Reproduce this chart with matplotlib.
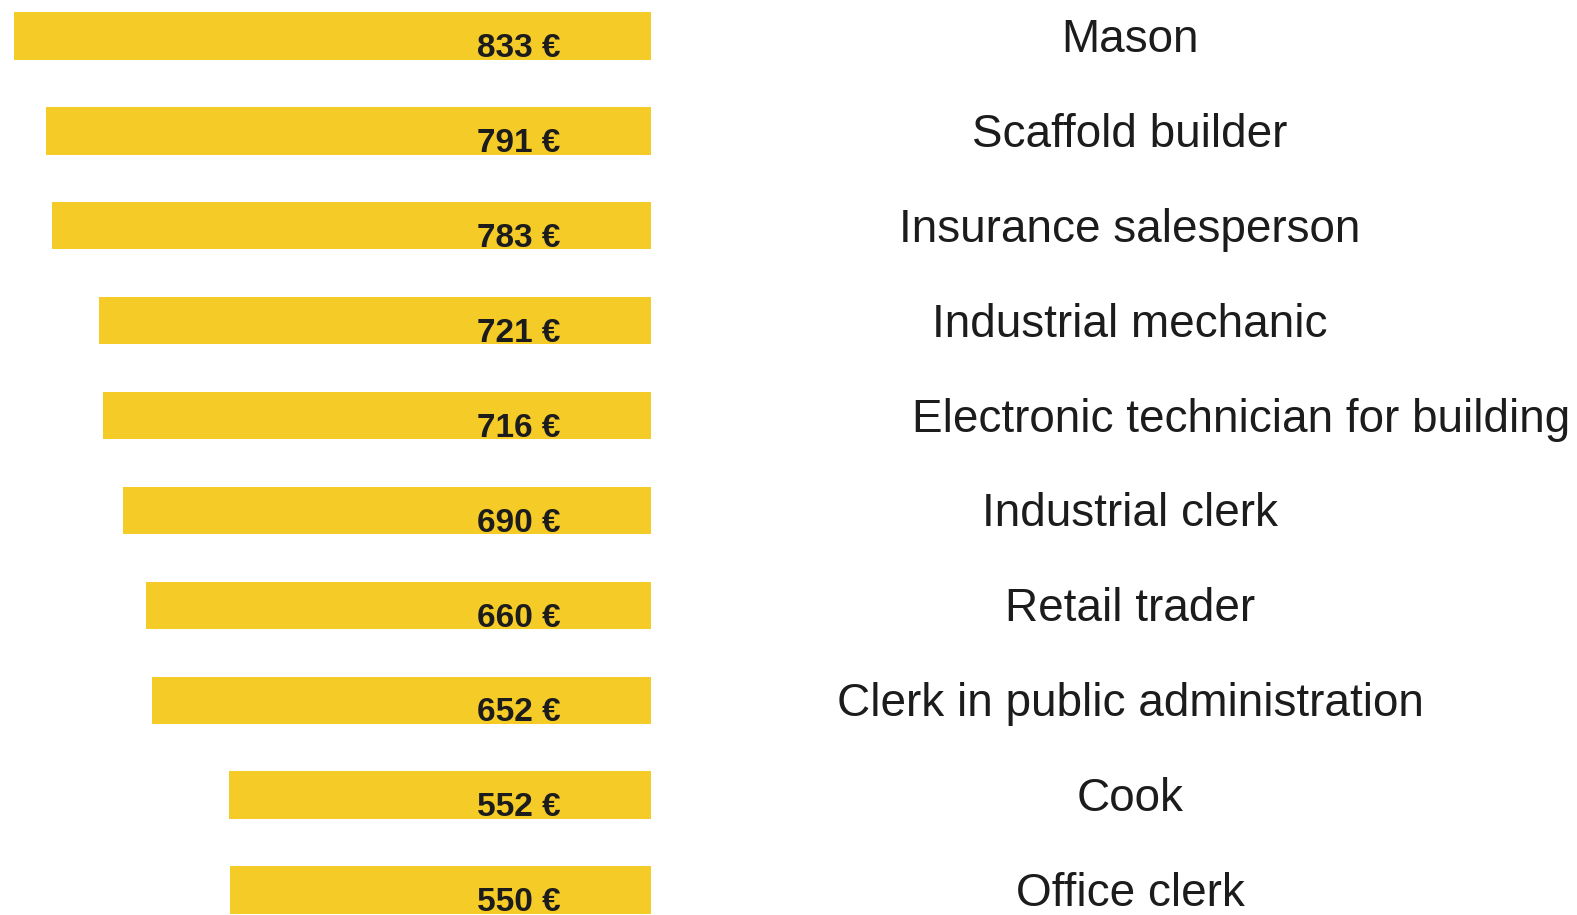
import matplotlib.pyplot as plt
from matplotlib.transforms import blended_transform_factory

# Monthly training allowance by occupation
jobs = ["Mason", "Scaffold builder", "Insurance salesperson", "Industrial mechanic",
        "Electronic technician for building", "Industrial clerk", "Retail trader",
        "Clerk in public administration", "Cook", "Office clerk"]
pay = [833, 791, 783, 721, 716, 690, 660, 652, 552, 550]
pay_labels = [f"{v} €" for v in pay]

BAR_COLOR = "#F5CB27"
TEXT_COLOR = "#1c1c1c"
W, H = 1577, 915


def main():
    plt.rcParams['font.family'] = ['Liberation Sans', 'DejaVu Sans']
    fig = plt.figure(figsize=(W / 100, H / 100), dpi=100)
    ax = fig.add_axes([0, 0, 1, 1])

    px_per_unit = 0.765
    zero_px = 651
    row_px = 94.9
    ax.set_xlim(zero_px / px_per_unit, -(W - zero_px) / px_per_unit)
    ax.set_ylim(len(jobs) - 1 + (H - 890) / row_px, -36 / row_px)
    ax.axis("off")

    ys = list(range(len(jobs)))
    ax.barh(ys, pay, height=0.5, color=BAR_COLOR)

    # value labels near right end of each bar, sitting on the bar bottom
    for y, lab in zip(ys, pay_labels):
        ax.text(118, y + 0.25 - 2.5 / row_px, lab, ha="right", va="baseline",
                fontsize=24, fontweight="bold", color=TEXT_COLOR)

    # category labels on the right
    trans = blended_transform_factory(fig.transFigure, ax.transData)
    dy = 4 / row_px
    for y, name in zip(ys, jobs):
        if name.startswith("Electronic"):
            ax.text(912 / W, y + dy, name, ha="left", va="center", fontsize=33,
                    color=TEXT_COLOR, transform=trans)
        else:
            ax.text(1130 / W, y + dy, name, ha="center", va="center", fontsize=33,
                    color=TEXT_COLOR, transform=trans)

    fig.savefig("out.png", dpi=100)


if __name__ == "__main__":
    main()
